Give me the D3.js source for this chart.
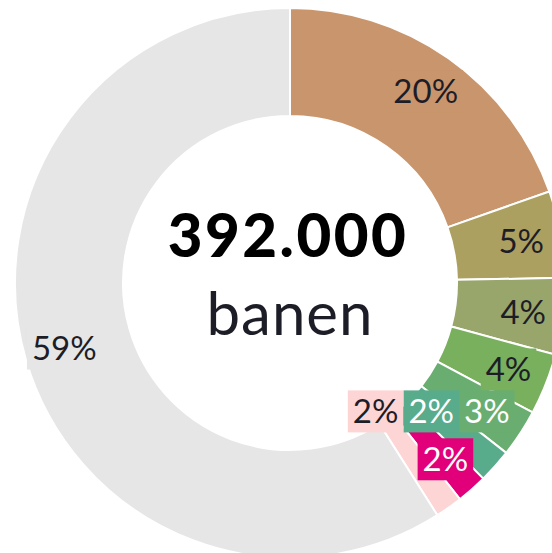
<!DOCTYPE html>
<html>
<head>
<meta charset="utf-8">
<script src="https://cdn.jsdelivr.net/npm/d3@7"></script>
<style>
  body { margin: 0; background: #fff; }
  text { font-family: Lato, "Open Sans", sans-serif; }
</style>
</head>
<body>
<div id="chart"></div>
<script>
// slice shares (percent of all jobs), clockwise from 12 o'clock
const categories = ["s1", "s2", "s3", "s4", "s5", "s6", "s7", "s8", "rest"];
const shares = [19.6, 5.1, 4.5, 3.6, 2.8, 2.0, 1.8, 1.6, 59.0];
const labels = ["20%", "5%", "4%", "4%", "3%", "2%", "2%", "2%", "59%"];
const totalLabel = "392.000";
const unitLabel = "banen";

const palette = ["#c9956c", "#aca060", "#99a66b", "#79b05d", "#69ae70", "#58ab8b", "#e2007a", "#fdd5d5", "#e6e6e6"];
const labelInk = ["#1d1d28", "#1d1d28", "#1d1d28", "#1d1d28", "#fff", "#fff", "#fff", "#1d1d28", "#1d1d28"];

const dimensions = {
    width: 552,
    height: 553,
    cx: 290,
    cy: 283,
    inner: 167,
    outer: 275,
    labelRadius: 235
};

const dataset = categories.map((c, i) => ({ key: c, share: shares[i], label: labels[i], i: i }));

const svg = d3.select("#chart")
    .append("svg")
    .attr("width", dimensions.width)
    .attr("height", dimensions.height);

const g = svg.append("g")
    .attr("transform", `translate(${dimensions.cx},${dimensions.cy})`);

const pie = d3.pie().sort(null).value(d => d.share);
const arcs = pie(dataset);

const arc = d3.arc()
    .innerRadius(dimensions.inner)
    .outerRadius(dimensions.outer);

const labelArc = d3.arc()
    .innerRadius(dimensions.labelRadius)
    .outerRadius(dimensions.labelRadius);

g.selectAll("path.slice")
    .data(arcs)
    .enter()
    .append("path")
    .attr("class", "slice")
    .attr("d", arc)
    .attr("fill", d => palette[d.data.i])
    .attr("stroke", "#fff")
    .attr("stroke-width", 2);

// labels with a background box in the slice colour
const labelGroups = g.selectAll("g.label")
    .data(arcs)
    .enter()
    .append("g")
    .attr("class", "label");

labelGroups.append("rect")
    .attr("fill", d => palette[d.data.i]);

labelGroups.append("text")
    .attr("text-anchor", "middle")
    .attr("dy", "0.36em")
    .style("font-size", "33px")
    .attr("fill", d => labelInk[d.data.i])
    .text(d => d.data.label);

// simple overlap handling: labels that collide are lined up in a row
// to the left of the first label they ran into
const placed = [];
let row = null;
const overlaps = (a, b) => a.x0 < b.x1 - 1 && a.x1 > b.x0 + 1 && a.y0 < b.y1 - 1 && a.y1 > b.y0 + 1;

labelGroups.each(function (d) {
    const node = d3.select(this);
    const bb = node.select("text").node().getBBox();
    const w = bb.width + 10;
    const h = 42;
    let [x, y] = labelArc.centroid(d);
    let box = { x0: x - w / 2, x1: x + w / 2, y0: y - h / 2, y1: y + h / 2 };
    const hit = placed.find(p => overlaps(box, p));
    if (hit) {
        if (!row) row = { y: (hit.y0 + hit.y1) / 2, left: hit.x0 };
        y = row.y;
        x = row.left - w / 2;
        row.left = x - w / 2;
        box = { x0: x - w / 2, x1: x + w / 2, y0: y - h / 2, y1: y + h / 2 };
    }
    placed.push(box);
    node.attr("transform", `translate(${x},${y})`);
    node.select("rect")
        .attr("x", -w / 2)
        .attr("y", -h / 2)
        .attr("width", w)
        .attr("height", h);
});

// centre text
g.append("text")
    .attr("text-anchor", "middle")
    .attr("x", -2)
    .attr("y", -26)
    .style("font-size", "60px")
    .style("font-weight", 900)
    .style("letter-spacing", "2.5px")
    .attr("fill", "#000")
    .text(totalLabel);

g.append("text")
    .attr("text-anchor", "middle")
    .attr("x", 0)
    .attr("y", 52)
    .style("font-size", "60px")
    .style("font-weight", 400)
    .style("letter-spacing", "1px")
    .attr("fill", "#1d1d28")
    .text(unitLabel);
</script>
</body>
</html>
